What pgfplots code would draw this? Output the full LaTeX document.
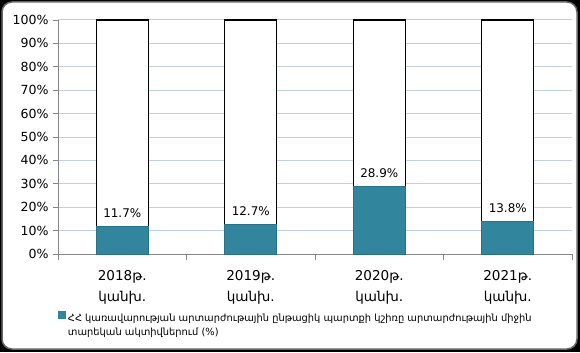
\documentclass[border=0pt]{standalone}
\usepackage{pgfplots}
\pgfplotsset{compat=1.18}
\usepackage{fontspec}
\setmainfont{DejaVu Sans}
\definecolor{tealc}{RGB}{49,133,156}
\definecolor{gridc}{RGB}{192,206,230}
\definecolor{axc}{RGB}{134,134,134}
\begin{document}
\begin{tikzpicture}[x=1bp,y=1bp]
\useasboundingbox (0,0) rectangle (580,352);
\fill[black] (0,0) rectangle (580,352);
\draw[rounded corners=10bp, fill=white, draw=gray!80!black, line width=1.5bp] (2,3) rectangle (577,350);
\begin{axis}[
  at={(58bp,98bp)}, anchor=south west,
  scale only axis, width=514bp, height=234bp,
  xmin=-0.5, xmax=3.5, ymin=0, ymax=100,
  clip=false,
  ybar, bar width=52bp,
  axis x line*=bottom, axis y line*=left,
  axis line style={axc, line width=0.8bp},
  tick align=outside,
  major tick length=5bp, minor tick length=6bp,
  tick style={axc, line width=0.8bp},
  ytick={0,10,...,100},
  /pgf/number format/assume math mode=true,
  yticklabel={\pgfmathprintnumber{\tick}\%},
  yticklabel style={font=\fontsize{12.6}{14}\selectfont, xshift=-1bp},
  xtick={0,1,2,3},
  major x tick style={draw=none},
  minor xtick={-0.5,0.5,1.5,2.5,3.5},
  xticklabels={{2018թ.\\կանխ.},{2019թ.\\կանխ.},{2020թ.\\կանխ.},{2021թ.\\կանխ.}},
  xticklabel style={align=center, font=\fontsize{13.6}{20.5}\selectfont, yshift=-8bp},
  ymajorgrids, major grid style={gridc, line width=1bp},
  legend style={at={(0.0,-0.244)}, anchor=north west, draw=none, fill=none, inner sep=0pt,
    font=\fontsize{9.9}{14}\selectfont, legend cell align=left},
  legend image code/.code={\fill[tealc] (0bp,-0.5bp) rectangle (7bp,6.5bp);},
]
\addplot[fill=white, draw=black, line width=1.2bp, bar shift=0pt, forget plot]
  coordinates {(0,100) (1,100) (2,100) (3,100)};
\addplot[fill=tealc, draw=tealc!85!black, line width=0.8bp, bar shift=0pt,
  nodes near coords, point meta=explicit symbolic,
  every node near coord/.append style={font=\fontsize{12}{13}\selectfont, anchor=south, yshift=5bp, black}]
  coordinates {(0,11.7) [11.7\%] (1,12.7) [12.7\%] (2,28.9) [28.9\%] (3,13.8) [13.8\%]};
\addlegendentry{\parbox[t]{480bp}{ՀՀ կառավարության արտարժութային ընթացիկ  պարտքի կշիռը արտարժութային միջին\\տարեկան ակտիվներում (\%)}}
\end{axis}
\end{tikzpicture}
\end{document}
